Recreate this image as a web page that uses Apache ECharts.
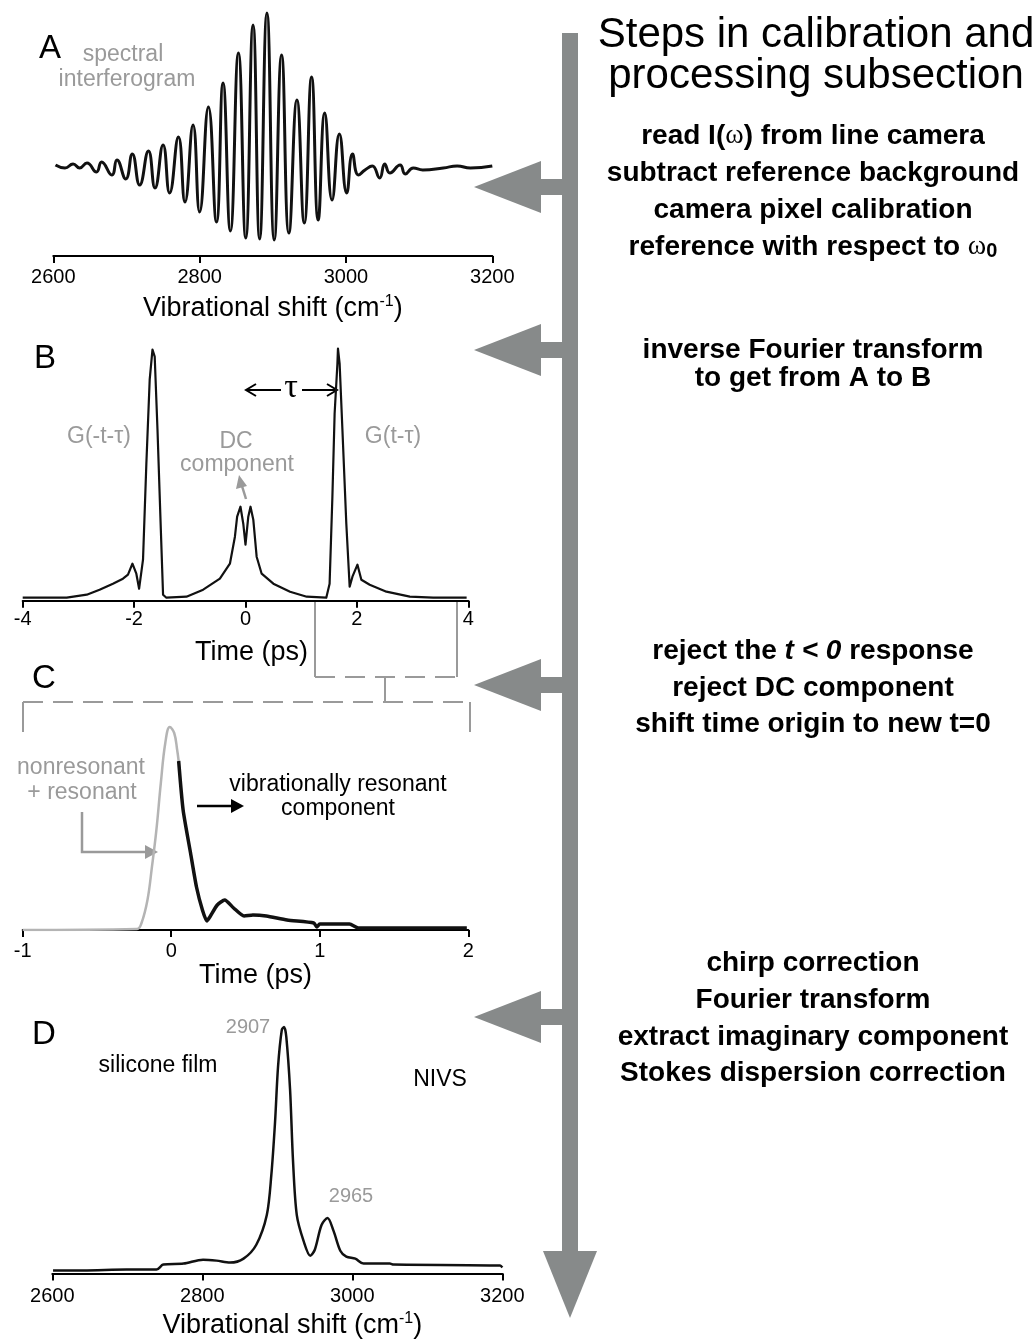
<!DOCTYPE html>
<html>
<head>
<meta charset="utf-8">
<script src="https://cdn.jsdelivr.net/npm/echarts@6/dist/echarts.min.js"></script>
<style>
html, body { margin: 0; padding: 0; background: #fff; }
#main { width: 1036px; height: 1340px; }
</style>
</head>
<body>
<div id="main"></div>
<script>
'use strict';

// ---- data ----
var shiftTicks = [2600, 2800, 3000, 3200];
var timeTicksB = [-4, -2, 0, 2, 4];
var timeTicksC = [-1, 0, 1, 2];

// A: spectral interferogram (extrema of the fringes)
var aShift = [2603, 2616, 2627, 2636, 2646, 2659, 2666, 2680, 2687, 2699, 2708, 2718, 2730, 2739, 2750, 2759,
    2771, 2780, 2791, 2800, 2812, 2823, 2832, 2842, 2853, 2863, 2873, 2882, 2892, 2902, 2912, 2922,
    2933, 2943, 2953, 2962, 2971, 2981, 2991, 3001, 3009, 3017, 3026, 3036, 3046, 3053, 3060, 3074,
    3081, 3092, 3105, 3133, 3152, 3170, 3200];
var aSignal = [0.01, -0.02, 0.02, -0.02, 0.03, -0.06, 0.04, -0.09, 0.06, -0.13, 0.12, -0.19, 0.15, -0.22, 0.21, -0.27,
    0.29, -0.36, 0.41, -0.46, 0.59, -0.56, 0.83, -0.65, 1.13, -0.72, 1.41, -0.73, 1.53, -0.74, 1.11, -0.67,
    0.66, -0.57, 0.89, -0.54, 0.53, -0.34, 0.32, -0.27, 0.12, -0.09, -0.04, 0.0, -0.12, 0.02, -0.07, 0.01,
    -0.08, -0.02, -0.04, -0.02, 0, -0.02, 0];

// B: inverse Fourier transform
var bTime = [-4.0, -3.21, -2.85, -2.62, -2.38, -2.2, -2.11, -2.03, -1.96, -1.91, -1.84, -1.78, -1.72, -1.67, -1.63, -1.58,
    -1.52, -1.48, -1.42, -1.06, -0.76, -0.46, -0.28, -0.19, -0.15, -0.09, -0.04, 0, 0.05, 0.09, 0.14, 0.2,
    0.29, 0.5, 0.8, 1.1, 1.45, 1.51, 1.56, 1.6, 1.65, 1.66, 1.69, 1.74, 1.81, 1.87, 1.92, 2.01,
    2.08, 2.23, 2.53, 2.95, 3.37, 3.97];
var bSignal = [0.03, 0.03, 0.06, 0.11, 0.17, 0.22, 0.26, 0.37, 0.27, 0.12, 0.41, 1.37, 2.21, 2.51, 2.44, 1.71,
    0.71, 0.06, 0.03, 0.04, 0.11, 0.22, 0.37, 0.64, 0.84, 0.94, 0.77, 0.56, 0.84, 0.94, 0.81, 0.44,
    0.27, 0.17, 0.09, 0.04, 0.03, 0.17, 1.04, 1.87, 2.37, 2.52, 2.37, 1.71, 0.77, 0.14, 0.24, 0.36,
    0.21, 0.16, 0.09, 0.04, 0.03, 0.03];

// C: nonresonant + resonant (gray) and vibrationally resonant part (black)
var cTimeAll = [-1, -0.23, -0.2, -0.16, -0.13, -0.1, -0.07, -0.04, -0.01, 0.02, 0.04, 0.05];
var cSignalAll = [0, 0.01, 0.07, 0.3, 0.63, 1.0, 1.47, 1.87, 2.03, 1.97, 1.8, 1.69];
var cTimeRes = [0.05, 0.08, 0.13, 0.17, 0.21, 0.24, 0.26, 0.31, 0.36, 0.42, 0.49, 0.55, 0.64, 0.78, 0.96, 0.98,
    1.0, 1.2, 1.26, 1.99];
var cSignalRes = [1.69, 1.2, 0.77, 0.43, 0.2, 0.09, 0.13, 0.25, 0.3, 0.22, 0.14, 0.15, 0.14, 0.1, 0.07, 0.03,
    0.06, 0.06, 0.02, 0.02];

// D: NIVS spectrum of silicone film
var dShift = [2601, 2641, 2699, 2739, 2748, 2775, 2801, 2819, 2837, 2855, 2872, 2886, 2892, 2897, 2901, 2906,
    2909, 2912, 2917, 2921, 2926, 2935, 2944, 2950, 2959, 2967, 2975, 2984, 2992, 3004, 3015, 3050,
    3055, 3197, 3200];
var dSignal = [0.03, 0.03, 0.04, 0.04, 0.09, 0.1, 0.14, 0.13, 0.11, 0.15, 0.29, 0.59, 0.99, 1.53, 2.09, 2.46,
    2.49, 2.39, 1.86, 1.13, 0.59, 0.33, 0.18, 0.24, 0.49, 0.56, 0.43, 0.23, 0.17, 0.15, 0.1, 0.1,
    0.09, 0.08, 0.06];

var stepsA = ['read I(ω) from line camera', 'subtract reference background', 'camera pixel calibration',
    'reference with respect to ω0'];
var stepsB = ['inverse Fourier transform', 'to get from A to B'];
var stepsC = ['reject the t < 0 response', 'reject DC component', 'shift time origin to new t=0'];
var stepsD = ['chirp correction', 'Fourier transform', 'extract imaginary component', 'Stokes dispersion correction'];

// ---- helpers ----
var SANS = '"Liberation Sans", Arial, Helvetica, sans-serif';
var SERIF = '"Liberation Serif", "Times New Roman", serif';
var GRAY = '#9a9a9a';
var ARROW = '#878a8a';

function zip(xs, ys) {
    return xs.map(function (x, i) { return [x, ys[i]]; });
}

function xAxisFor(idx, ticks, name, nameGap, labelMargin, namePad) {
    return {
        gridIndex: idx, type: 'value',
        min: ticks[0], max: ticks[ticks.length - 1], interval: ticks[1] - ticks[0],
        axisLine: { onZero: false, lineStyle: { color: '#000', width: 2 } },
        axisTick: { length: 7, lineStyle: { color: '#000', width: 2 } },
        axisLabel: {
            color: '#000', fontSize: 20, fontFamily: SANS, margin: labelMargin,
            formatter: function (v) { return String(v); }
        },
        splitLine: { show: false },
        name: name, nameLocation: 'middle', nameGap: nameGap,
        nameTextStyle: {
            padding: namePad || 0,
            rich: {
                n: { fontSize: 27, fontFamily: SANS, color: '#000', lineHeight: 30 },
                s: { fontSize: 16, fontFamily: SANS, color: '#000', verticalAlign: 'top' }
            }
        }
    };
}

function yAxisFor(idx, min, max) {
    return { gridIndex: idx, type: 'value', min: min, max: max, show: false, splitLine: { show: false } };
}

function line(idx, data, color, width, smooth) {
    return {
        type: 'line', xAxisIndex: idx, yAxisIndex: idx, data: data,
        showSymbol: false, smooth: smooth, silent: true,
        lineStyle: { color: color, width: width, join: 'round' }
    };
}

function txt(x, y, text, font, fill, extra) {
    var style = { text: text, font: font, fill: fill || '#000', align: 'center', verticalAlign: 'middle' };
    if (extra) Object.keys(extra).forEach(function (k) { style[k] = extra[k]; });
    return { type: 'text', x: x, y: y, silent: true, style: style };
}

function seg(pts, color, width, dash) {
    return {
        type: 'polyline', silent: true, shape: { points: pts },
        style: { stroke: color, lineWidth: width, fill: null, lineDash: dash || null }
    };
}

function tri(pts, color) {
    return { type: 'polygon', silent: true, shape: { points: pts }, style: { fill: color } };
}

// big process arrow with side pointers
function leftPointer(y) {
    return [
        { type: 'rect', silent: true, shape: { x: 540, y: y - 8, width: 24, height: 16 }, style: { fill: ARROW } },
        tri([[474, y], [541, y - 26], [541, y + 26]], ARROW)
    ];
}

var BOLD = 'bold 28px ' + SANS;
var boldRich = {
    b: { font: BOLD, fill: '#000' },
    i: { font: 'italic bold 28px ' + SANS, fill: '#000' },
    w: { font: '28px ' + SERIF, fill: '#000' },
    o: { font: 'bold 20px ' + SANS, fill: '#000', verticalAlign: 'bottom' }
};

function stepLines(lines, ys) {
    return lines.map(function (s, k) {
        var t = '{b|' + s + '}';
        if (s.indexOf('I(ω)') >= 0) t = '{b|read I(}{w|ω}{b|) from line camera}';
        if (s.indexOf('ω0') >= 0) t = '{b|reference with respect to }{w|ω}{o|0}';
        if (s.indexOf('t < 0') >= 0) t = '{b|reject the }{i|t < 0}{b| response}';
        return txt(813, ys[k], t, BOLD, '#000', { rich: boldRich });
    });
}

var graphics = [];
graphics.push({ type: 'rect', silent: true, shape: { x: 562, y: 33, width: 16, height: 1219 }, style: { fill: ARROW } });
graphics.push(tri([[543, 1251], [597, 1251], [570, 1318]], ARROW));
[187, 350, 685, 1017].forEach(function (y) { graphics = graphics.concat(leftPointer(y)); });

graphics.push(txt(816, 35, 'Steps in calibration and', '42px ' + SANS));
graphics.push(txt(816, 76, 'processing subsection', '42px ' + SANS));
graphics = graphics.concat(stepLines(stepsA, [136, 173, 210, 247]));
graphics = graphics.concat(stepLines(stepsB, [350, 378]));
graphics = graphics.concat(stepLines(stepsC, [651, 688, 724]));
graphics = graphics.concat(stepLines(stepsD, [963, 1000, 1037, 1073]));

// panel letters and annotations
var LBL = '23px ' + SANS;
var LETTER = '33px ' + SANS;
graphics.push(txt(50, 49, 'A', LETTER));
graphics.push(txt(123, 55, 'spectral', LBL, GRAY));
graphics.push(txt(127, 80, 'interferogram', LBL, GRAY));

graphics.push(txt(45, 359, 'B', LETTER));
graphics.push(txt(99, 437, 'G(-t-τ)', LBL, GRAY));
graphics.push(txt(236, 442, 'DC', LBL, GRAY));
graphics.push(txt(237, 465, 'component', LBL, GRAY));
graphics.push(txt(393, 437, 'G(t-τ)', LBL, GRAY));
graphics.push(seg([[246, 499], [242, 486]], GRAY, 2.5));
graphics.push(tri([[239, 475], [236, 489], [247, 486]], GRAY));
// tau double arrow
graphics.push(seg([[246, 390], [281, 390]], '#000', 2));
graphics.push(seg([[302, 390], [337, 390]], '#000', 2));
graphics.push(seg([[256, 384], [246, 390], [256, 396]], '#000', 2));
graphics.push(seg([[327, 384], [337, 390], [327, 396]], '#000', 2));
graphics.push(txt(291, 388, 'τ', '34px ' + SERIF));

// zoom bracket from B into C
graphics.push(seg([[315, 602], [315, 677]], GRAY, 2));
graphics.push(seg([[457, 602], [457, 677]], GRAY, 2));
graphics.push(seg([[315, 677], [457, 677]], GRAY, 2, [20, 10]));
graphics.push(seg([[385, 677], [385, 702]], GRAY, 2));
graphics.push(seg([[23, 702], [470, 702]], GRAY, 2, [20, 10]));
graphics.push(seg([[23, 702], [23, 732]], GRAY, 2));
graphics.push(seg([[470, 702], [470, 732]], GRAY, 2));

graphics.push(txt(44, 679, 'C', LETTER));
graphics.push(txt(81, 768, 'nonresonant', LBL, GRAY));
graphics.push(txt(82, 793, '+ resonant', LBL, GRAY));
graphics.push(seg([[82, 812], [82, 852], [147, 852]], GRAY, 2.5));
graphics.push(tri([[158, 852], [145, 845], [145, 859]], GRAY));
graphics.push(seg([[197, 806], [232, 806]], '#000', 2.5));
graphics.push(tri([[244, 806], [231, 799], [231, 813]], '#000'));
graphics.push(txt(338, 785, 'vibrationally resonant', LBL));
graphics.push(txt(338, 809, 'component', LBL));

graphics.push(txt(44, 1035, 'D', LETTER));
graphics.push(txt(248, 1027, '2907', '20px ' + SANS, GRAY));
graphics.push(txt(158, 1066, 'silicone film', LBL));
graphics.push(txt(440, 1080, 'NIVS', LBL));
graphics.push(txt(351, 1196, '2965', '20px ' + SANS, GRAY));

var shiftName = '{n|Vibrational shift (cm}{s|-1}{n|)}';

var option = {
    animation: false,
    backgroundColor: '#fff',
    grid: [
        { left: 53.3, top: 6, width: 439, height: 250 },
        { left: 22.7, top: 340.7, width: 445.6, height: 260 },
        { left: 22.7, top: 720, width: 445.6, height: 210 },
        { left: 52.3, top: 1016, width: 450, height: 260 }
    ],
    xAxis: [
        xAxisFor(0, shiftTicks, shiftName, 38, 11),
        xAxisFor(1, timeTicksB, '{n|Time (ps)}', 37, 9, [0, 0, 0, 12]),
        xAxisFor(2, timeTicksC, '{n|Time (ps)}', 23, 11, [0, 0, 0, 20]),
        xAxisFor(3, shiftTicks, shiftName, 37, 13, [0, 0, 0, 30])
    ],
    yAxis: [
        yAxisFor(0, -0.9, 1.6),
        yAxisFor(1, 0, 2.6),
        yAxisFor(2, 0, 2.1),
        yAxisFor(3, 0, 2.6)
    ],
    series: [
        line(0, zip(aShift, aSignal), '#111', 3, 0.5),
        line(1, zip(bTime, bSignal), '#111', 2.2, false),
        line(2, zip(cTimeAll, cSignalAll), '#b4b4b4', 2.5, 0.4),
        line(2, zip(cTimeRes, cSignalRes), '#111', 3.5, 0.2),
        line(3, zip(dShift, dSignal), '#111', 2.5, 0.3)
    ],
    graphic: graphics
};

var chart = echarts.init(document.getElementById('main'), null, { renderer: 'canvas' });
chart.setOption(option);
window.onresize = function () { chart.resize(); };
</script>
</body>
</html>
